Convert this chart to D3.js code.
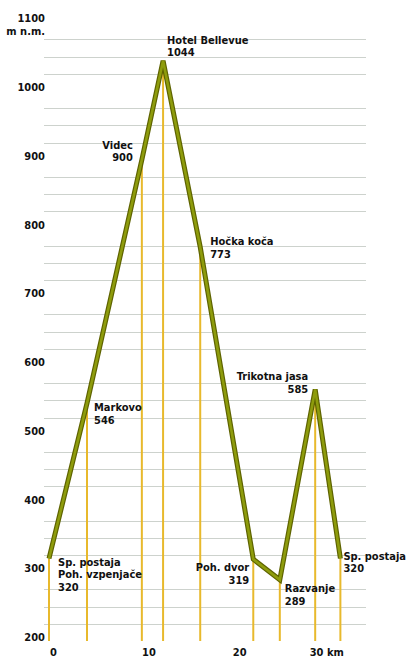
<!DOCTYPE html>
<html>
<head>
<meta charset="utf-8">
<script src="https://cdn.jsdelivr.net/npm/d3@7"></script>
<style>
  body { margin: 0; background: #fff; }
  svg text { font-family: "Liberation Sans Narrow", "DejaVu Sans Condensed", sans-serif; font-weight: bold; font-size: 11px; fill: #111; }
</style>
</head>
<body>
<svg id="svg"></svg>
<script>
// Chart data
const places = ["Sp. postaja|Poh. vzpenjače", "Markovo", "Videc", "Hotel Bellevue", "Hočka koča", "Poh. dvor", "Razvanje", "Trikotna jasa", "Sp. postaja"];
const km = [0, 4.3, 10.5, 12.9, 17.1, 23.1, 26.1, 30.1, 32.95];
const elev = [320, 546, 900, 1044, 773, 319, 289, 566, 320];      // as drawn
const elevLabel = ["320", "546", "900", "1044", "773", "319", "289", "585", "320"];
const yTicks = [200, 300, 400, 500, 600, 700, 800, 900, 1000];
const xTickPos = [0.45, 11.25, 21.5, 30.1];
const xTickLabels = ["0", "10", "20", "30 km"];

const width = 406;
const height = 661;

let svg = d3.select("#svg").attr("width", width).attr("height", height);

// scales
let x = d3.scaleLinear().domain([0, 30]).range([49, 314.3]);
let y = d3.scaleLinear().domain([200, 1000]).range([641, 91]);

// grid lines every 25 m, hundreds skipped
let grid = d3.range(225, 1100, 25).filter(v => v % 100 != 0);
svg.append("g").selectAll("line")
    .data(grid)
    .join("line")
    .attr("x1", 44).attr("x2", 366)
    .attr("y1", d => Math.round(y(d)) + 0.5)
    .attr("y2", d => Math.round(y(d)) + 0.5)
    .attr("stroke", "#cdd2cd")
    .attr("stroke-width", 1);

// y labels
svg.append("g").selectAll("text")
    .data(yTicks)
    .join("text")
    .attr("x", 45)
    .attr("y", d => y(d))
    .attr("text-anchor", "end")
    .text(d => d);
svg.append("text").attr("x", 45).attr("y", y(1100)).attr("text-anchor", "end").text("1100");
svg.append("text").attr("x", 45).attr("y", y(1100) + 12.5).attr("text-anchor", "end").text("m n.m.");

// orange drop lines
svg.append("g").selectAll("line")
    .data(km)
    .join("line")
    .attr("x1", d => x(d)).attr("x2", d => x(d))
    .attr("y1", y(200))
    .attr("y2", (d, i) => y(elev[i]))
    .attr("stroke", "#e8b92c")
    .attr("stroke-width", 2);

// profile line
let line = d3.line().x((d, i) => x(km[i])).y(d => y(d));
svg.append("path")
    .attr("d", line(elev))
    .attr("fill", "none")
    .attr("stroke", "#5e6300")
    .attr("stroke-width", 5);
svg.append("path")
    .attr("d", line(elev))
    .attr("fill", "none")
    .attr("stroke", "#8e9c0c")
    .attr("stroke-width", 2.6);

// place labels: [dx, dy of first line, anchor]
const labelPos = [
    [9, 7, "start"],
    [7, 8, "start"],
    [-9, -11, "end"],
    [4, -17, "start"],
    [10, -2, "start"],
    [-4, 12, "end"],
    [5, 12, "start"],
    [-7, -9, "end"],
    [3, 1, "start"]
];
let labels = svg.append("g");
places.forEach((p, i) => {
    let lines = p.split("|").concat([elevLabel[i]]);
    let t = labels.append("text")
        .attr("x", x(km[i]) + labelPos[i][0])
        .attr("y", y(elev[i]) + labelPos[i][1])
        .attr("text-anchor", labelPos[i][2]);
    lines.forEach((l, j) => {
        t.append("tspan")
            .attr("x", x(km[i]) + labelPos[i][0])
            .attr("dy", j == 0 ? 0 : 12.7)
            .text(l);
    });
});

// x labels
let xAxis = d3.axisBottom(x)
    .tickValues(xTickPos)
    .tickFormat((d, i) => xTickLabels[i])
    .tickSize(0);
let gx = svg.append("g")
    .attr("transform", "translate(0,645)")
    .call(xAxis);
gx.select(".domain").remove();
gx.selectAll("text")
    .attr("fill", "#111")
    .attr("font-size", null)
    .attr("font-family", null)
    .attr("dy", "0.71em");
gx.selectAll(".tick:last-of-type text").attr("text-anchor", "start").attr("dx", -6);
</script>
</body>
</html>
